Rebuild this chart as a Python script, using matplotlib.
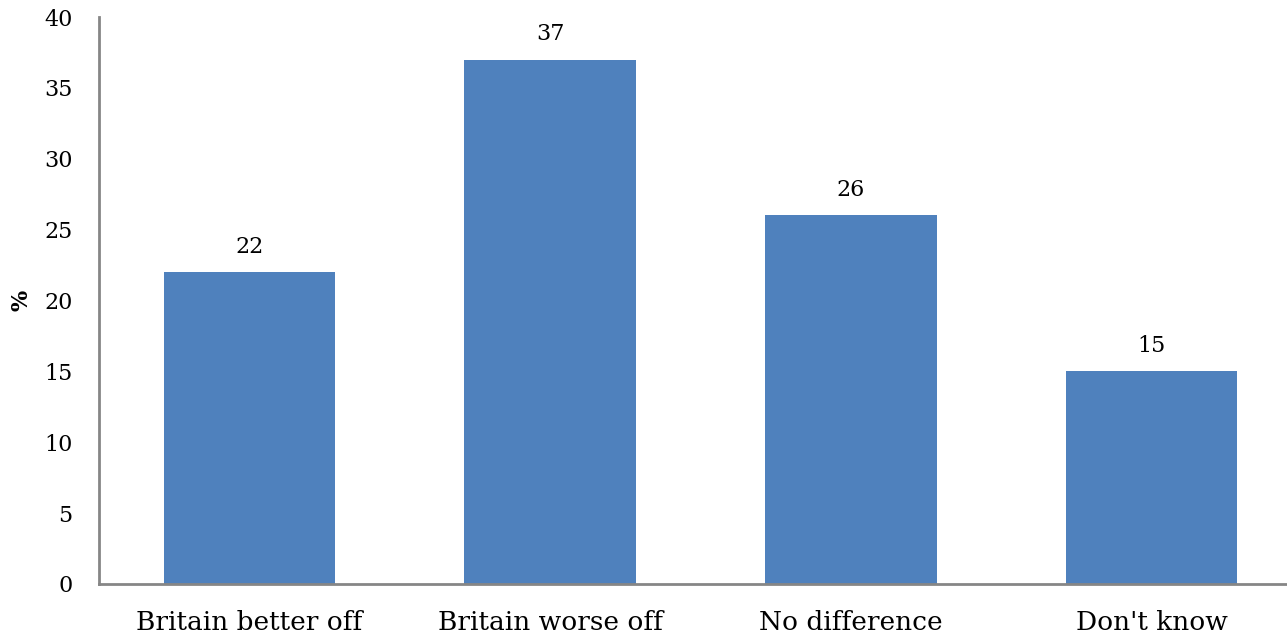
import matplotlib.pyplot as plt

categories = ["Britain better off", "Britain worse off", "No difference", "Don't know"]
values = [22, 37, 26, 15]
yticks = [0, 5, 10, 15, 20, 25, 30, 35, 40]

plt.rcParams['font.family'] = ['DejaVu Serif']

fig = plt.figure(figsize=(12.87, 6.37), dpi=100)
ax = fig.add_axes([99 / 1287, 53 / 637, 1203 / 1287, 567 / 637])

x = range(len(categories))
ax.bar(x, values, width=0.57, color='#4F81BD', zorder=2)
for i, v in zip(x, values):
    ax.text(i, v + 1.0, str(v), ha='center', va='bottom', fontsize=16)

ax.set_xlim(-0.5, 3.5)
ax.set_ylim(0, 40)
ax.set_yticks(yticks)
ax.set_xticks(list(x))
ax.set_xticklabels(categories, fontsize=19)
ax.tick_params(axis='y', labelsize=16, length=0, pad=19)
ax.tick_params(axis='x', length=0, pad=19)

for s in ['top', 'right']:
    ax.spines[s].set_visible(False)
for s in ['left', 'bottom']:
    ax.spines[s].set_color('#868686')
    ax.spines[s].set_linewidth(2)

ax.set_ylabel('%', fontsize=16, fontweight='bold', labelpad=8)

fig.savefig('out.png', dpi=100)
